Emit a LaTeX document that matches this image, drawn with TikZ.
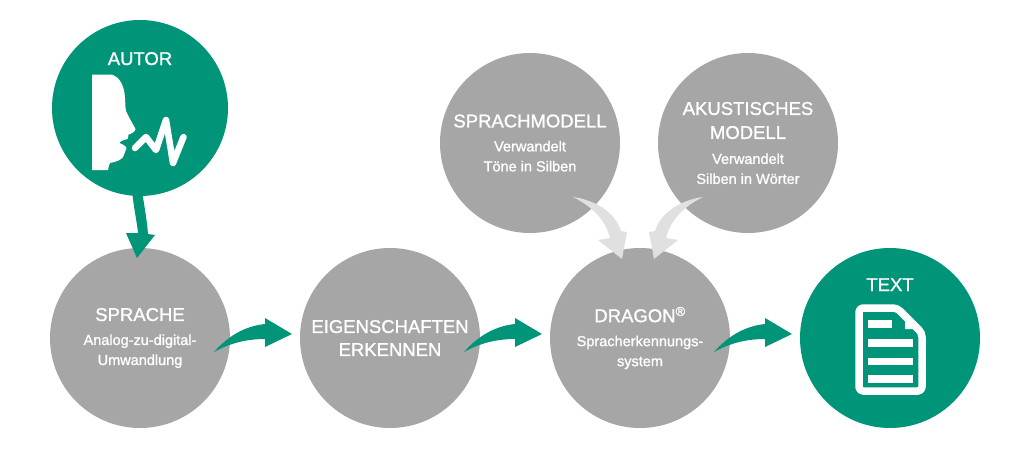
\documentclass[tikz,border=0pt]{standalone}
\usepackage{fontspec}
\setmainfont{Liberation Sans}
\newfontfamily\medfont{Liberation Sans}[FakeBold=1.2]
\usetikzlibrary{calc}
\definecolor{tealgreen}{RGB}{0,148,121}
\definecolor{circgray}{RGB}{166,166,166}
\definecolor{arrowgray}{RGB}{224,224,224}
\newcommand{\ttl}[1]{{\fontsize{18.5}{20}\selectfont #1}}
\begin{document}
\begin{tikzpicture}[x=1pt, y=-1pt,
	main_node/.style={circle,fill=circgray,minimum size=180pt,inner sep=0pt,text=white,align=center,font=\medfont\fontsize{14.5}{20}\selectfont},
	green_node/.style={main_node,fill=tealgreen},
	title/.style={text=white,font=\medfont\fontsize{18.5}{20}\selectfont},
	flow_arrow/.pic={
		\fill[tealgreen] (-51,14) .. controls (-36,-3) and (-19,-12) .. (0,-14) -- (0,-20) -- (27,-4) -- (0,9) -- (0,1)
		.. controls (-18,1) and (-35,5) .. (-51,14) -- cycle;},
	down_arrow/.pic={
		\fill[tealgreen] (-8,-33) .. controls (-6,-13) and (-3,-1) .. (-2,10) -- (-14,10) -- (-3,35) -- (15,12) -- (8,11)
		.. controls (7,-3) and (4,-18) .. (2,-33) -- cycle;},
	feed_arrow/.pic={
		\fill[arrowgray] (-67,-141) .. controls (-45,-138) and (-25,-126) .. (-19,-107) -- (-13,-106) -- (-18,-79) -- (-42,-98) -- (-30,-100)
		.. controls (-34,-116) and (-45,-130) .. (-67,-141) -- cycle;}]
	
	\useasboundingbox (0,0) rectangle (1030,450);
	
	\node[green_node, minimum size=176pt] (autor) at (140,108) {};
	\node[main_node] (sprache) at (140,338) {\ttl{SPRACHE}\\[4pt]Analog-zu-digital-\\Umwandlung};
	\node[main_node] (eigen) at (390,338) {\ttl{EIGENSCHAFTEN}\\[3pt]\ttl{ERKENNEN}};
	\node[main_node] (dragon) at (640,338) {\ttl{DRAGON\textsuperscript{®}}\\[4pt]Spracherkennungs-\\system};
	\node[main_node] (sprachmodell) at (530,143) {\ttl{SPRACHMODELL}\\[4pt]Verwandelt\\Töne in Silben};
	\node[main_node] (akustik) at (748,143) {\ttl{AKUSTISCHES}\\[4pt]\ttl{MODELL}\\[5pt]Verwandelt\\Silben in Wörter};
	\node[green_node] (text) at (890,338) {};
	
	\node[title, anchor=base] (autor_label) at (140,65) {AUTOR};
	\node[title, anchor=base] (text_label) at (890,291) {TEXT};
	
	% speaker icon
	\fill[white] (92,74.5) -- (112,74.5) .. controls (119,77) and (123,84) .. (124.5,93)
		.. controls (125.5,100) and (125,106) .. (126,111) .. controls (129,118) and (133,124) .. (135.5,129)
		.. controls (135,132) and (131,134) .. (128.5,134.5) .. controls (128,136) and (128.5,138) .. (127.5,139)
		.. controls (124,140) and (120,141) .. (119.5,143) .. controls (122,144) and (126,146) .. (126.5,148)
		.. controls (126,151) and (124,154) .. (123,157) .. controls (121,160) and (116,162) .. (110,163)
		.. controls (109,165) and (108.5,167) .. (108,170) -- (92,170) -- cycle;
	\draw[white, line width=6.5pt, line cap=round, line join=round] (135,148) -- (146,137) -- (156,150) -- (166,120) -- (173,163) -- (183.5,137);
	
	% document icon
	\fill[white] (900,310) -- (905,310) -- (905,329) -- (920,329) -- cycle;
	\draw[white, line width=7.5pt, line join=round, rounded corners=4pt] (859,350) -- (859,308) -- (897,308) -- (922,333) -- (922,391) -- (859,391) -- cycle;
	\fill[white] (867.7,320) rectangle (891.7,328.3);
	\foreach \y in {339,357.5,375}
		\fill[white] (867.7,\y) rectangle (913.3,\y+7.5);
	
	% arrows
	\pic at ($(autor)!0.5!(sprache)$) {down_arrow};
	\pic at ($(sprache)!0.5!(eigen)$) {flow_arrow};
	\pic at ($(eigen)!0.5!(dragon)$) {flow_arrow};
	\pic at ($(dragon)!0.5!(text)$) {flow_arrow};
	\pic at (dragon) {feed_arrow};
	\pic[xscale=-1] at ($(dragon)+(-4,0)$) {feed_arrow};
\end{tikzpicture}
\end{document}
